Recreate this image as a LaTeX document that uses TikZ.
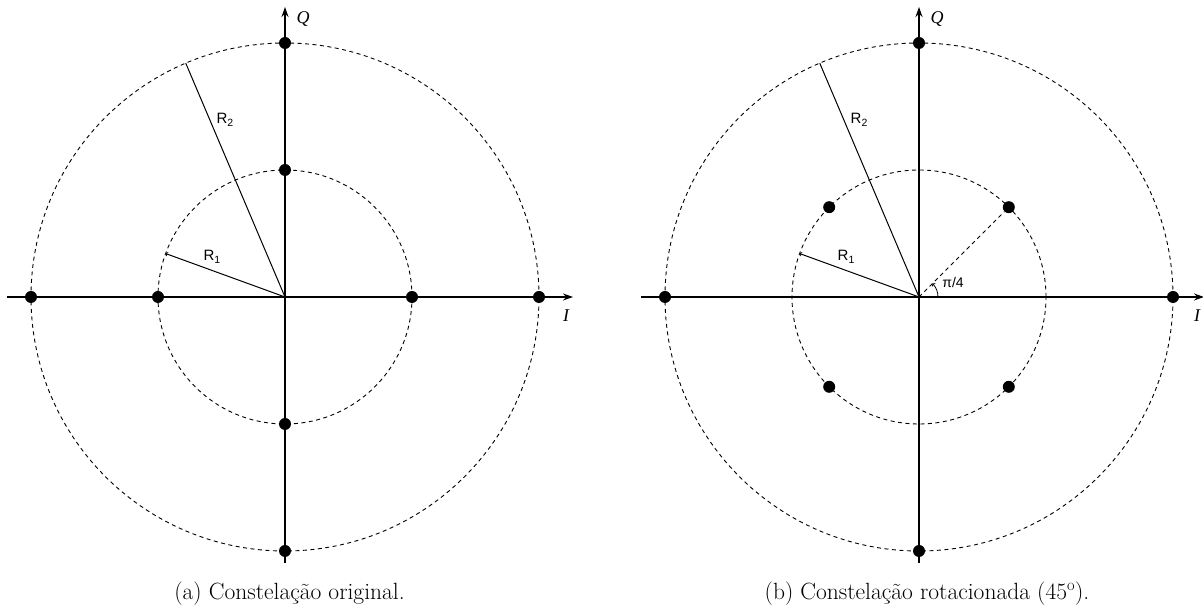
\documentclass[tikz,border=0pt]{standalone}
\usepackage{fontspec}
\newfontfamily\helv{Liberation Sans}
\newfontfamily\tms{Liberation Serif}
\usetikzlibrary{arrows.meta,calc}
\newcommand{\rsub}[1]{R\raisebox{-0.35ex}{\fontsize{10.5}{10.5}\selectfont #1}}
\begin{document}
\begin{tikzpicture}[x=1pt,y=1pt,
  circ/.style={dash pattern=on 4pt off 3.5pt, line width=0.9pt},
  axis/.style={line width=1.3pt, -{Stealth[length=10pt,width=7pt]}},
  dot/.style={circle, fill=black, inner sep=0pt, minimum size=12pt},
  rad/.style={line width=1pt},
  tick/.style={-{Straight Barb[length=1.5pt,width=4pt,line width=0.7pt]}},
  rlab/.style={font=\helv\fontsize{15}{17}\selectfont},
  axlab/.style={font=\tms\itshape\fontsize{18}{20}\selectfont},
  captxt/.style={font=\fontsize{23.5}{26}\selectfont, anchor=base}]
\useasboundingbox (0,0) rectangle (1203,607);

% ---------- (a) ----------
\coordinate (oa) at (285,310);
\draw[circ] (oa) circle (254);
\draw[circ] (oa) circle (127);
\coordinate (aL) at (7,310);
\coordinate (aR) at (573,310);
\coordinate (aB) at (285,44);
\coordinate (aT) at (285,600);
\draw[axis] (aL) -- (aR);
\draw[axis] (aB) -- (aT);
\path (oa) ++(0:127) node[dot] (a1) {};
\path (oa) ++(90:127) node[dot] (a2) {};
\path (oa) ++(180:127) node[dot] (a3) {};
\path (oa) ++(270:127) node[dot] (a4) {};
\path (oa) ++(0:254) node[dot] (a5) {};
\path (oa) ++(90:254) node[dot] (a6) {};
\path (oa) ++(180:254) node[dot] (a7) {};
\path (oa) ++(270:254) node[dot] (a8) {};
\path (oa) ++(160:127) coordinate (ar1);
\path (oa) ++(113:254) coordinate (ar2);
\draw[rad, tick] (oa) -- (ar1);
\draw[rad] (oa) -- (ar2);
\node[rlab] (ra1) at (212,350) {\rsub{1}};
\node[rlab] (ra2) at (225,487) {\rsub{2}};
\node[axlab] (qa) at (303,588) {Q};
\node[axlab] (ia) at (566,291) {I};
\node[captxt] (capa) at (289.5,7.5) {(a) Constelação original.};

% ---------- (b) ----------
\coordinate (ob) at (919,310);
\draw[circ] (ob) circle (254);
\draw[circ] (ob) circle (127);
\coordinate (bL) at (641,310);
\coordinate (bR) at (1204,310);
\coordinate (bB) at (919,44);
\coordinate (bT) at (919,600);
\draw[axis] (bL) -- (bR);
\draw[axis] (bB) -- (bT);
\path (ob) ++(45:127) node[dot] (b1) {};
\path (ob) ++(135:127) node[dot] (b2) {};
\path (ob) ++(225:127) node[dot] (b3) {};
\path (ob) ++(315:127) node[dot] (b4) {};
\path (ob) ++(0:254) node[dot] (b5) {};
\path (ob) ++(90:254) node[dot] (b6) {};
\path (ob) ++(180:254) node[dot] (b7) {};
\path (ob) ++(270:254) node[dot] (b8) {};
\path (ob) ++(160:127) coordinate (br1);
\path (ob) ++(113:254) coordinate (br2);
\draw[rad, tick] (ob) -- (br1);
\draw[rad] (ob) -- (br2);
\draw[circ] (ob) -- (b1);
\path (ob) ++(19,0) coordinate (arcs);
\draw[line width=0.8pt, -{Straight Barb[length=1.5pt,width=4pt]}] (arcs) arc (0:45:19);
\node[rlab] (rb1) at (846,350) {\rsub{1}};
\node[rlab] (rb2) at (859,487) {\rsub{2}};
\node[font=\helv\fontsize{14}{16}\selectfont] (pi4) at (953,324) {π/4};
\node[axlab] (qb) at (937,588) {Q};
\node[axlab] (ib) at (1197,291) {I};
\node[captxt] (capb) at (927,7.5) {(b) Constelação rotacionada (45\textsuperscript{o}).};
\end{tikzpicture}
\end{document}
